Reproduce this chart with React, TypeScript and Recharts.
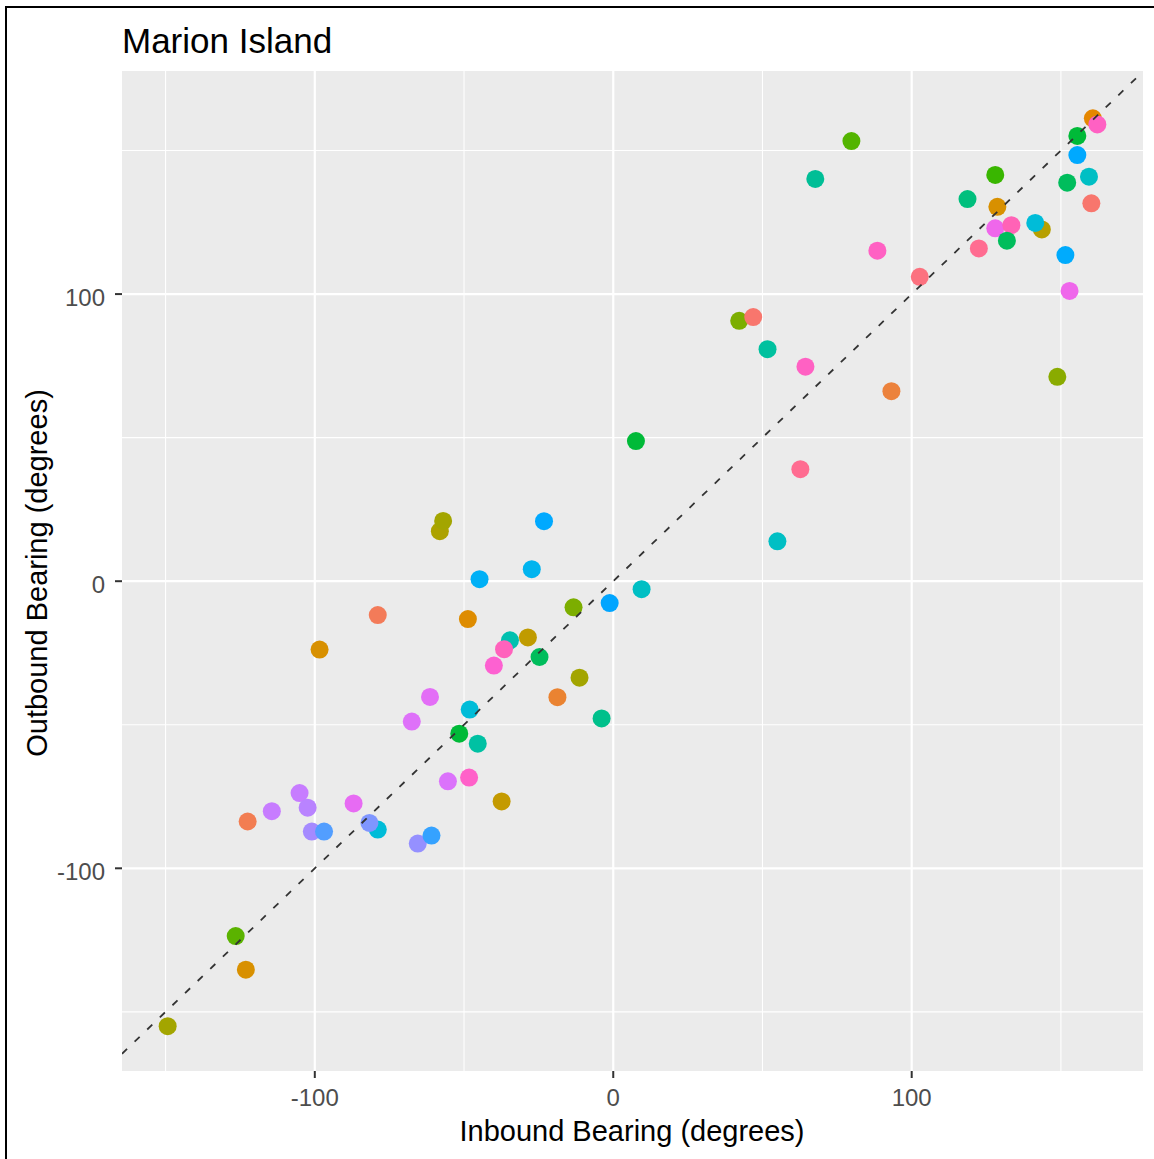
import * as React from 'react';
import { ScatterChart, Scatter, XAxis, YAxis, CartesianGrid, Cell } from 'recharts';

// Bearings per track (degrees)
const inbound = [
  79.8, 67.7, 128.0, 118.7, 128.7, 128.0, 133.4, 131.9, 143.6, 141.4,
  122.5, 88.5, 102.7, 160.7, 162.2, 155.5, 155.5, 159.4, 152.1, 160.2,
  151.5, 152.9, 42.2, 46.9, 51.7, 64.4, 93.2, 148.8, 7.6, 62.7,
  -58.1, -57.0, -23.2, 55.0, -44.8, -27.3, 9.5, -13.3, -1.2, -48.7,
  -34.6, -28.6, -36.6, -24.7, -40.0, -11.3, -18.7, -61.4, -48.1, -3.9,
  -78.9, -98.4, -67.5, -51.6, -45.4, -55.4, -48.3, -37.4, -105.1, -114.4,
  -122.5, -102.4, -101.0, -96.9, -87.0, -78.9, -81.7, -65.5, -60.9, -126.5,
  -123.1, -149.3,
];

const outbound = [
  153.3, 140.1, 141.5, 133.1, 130.4, 122.9, 124.0, 118.6, 122.5, 124.8,
  115.9, 115.1, 106.0, 161.2, 159.1, 155.1, 148.4, 140.9, 138.8, 131.6,
  113.6, 101.1, 90.7, 92.0, 80.8, 74.7, 66.2, 71.2, 48.8, 39.0,
  17.4, 21.0, 20.9, 13.9, 0.7, 4.2, -2.8, -9.1, -7.6, -13.2,
  -20.6, -19.6, -23.7, -26.4, -29.4, -33.6, -40.4, -40.3, -44.7, -47.8,
  -11.8, -23.8, -48.9, -53.1, -56.6, -69.7, -68.4, -76.7, -73.8, -80.1,
  -83.7, -78.9, -87.2, -87.2, -77.4, -86.5, -84.2, -91.4, -88.6, -123.6,
  -135.3, -155.0,
];

const pointColours = [
  '#53B400', '#00BE96', '#39B600', '#00BF7D', '#D89000', '#EF67EB', '#FF63B6', '#00BD5C', '#B79F00', '#00BCD8',
  '#FF6C91', '#FF61C3', '#FC717F', '#E58700', '#FF61C3', '#00BA38', '#00A9FF', '#00BFC4', '#00BD5C', '#F8766D',
  '#00ABFD', '#EF67EB', '#7CAE00', '#F8766D', '#00C19F', '#FF61C3', '#EC823C', '#8AAB00', '#00BA38', '#FF6C91',
  '#ADA200', '#A3A500', '#00A9FF', '#00BFC4', '#00B0F6', '#00B4EF', '#00BFC4', '#7CAE00', '#00A5FF', '#DE8C00',
  '#00C0AF', '#C09B00', '#FF62BC', '#00BD5C', '#FD61D1', '#A3A500', '#EA8331', '#E36EF6', '#00BCD8', '#00C08B',
  '#F37B59', '#D89000', '#DE71F9', '#00BA38', '#00C1A3', '#DB72FB', '#FF61C9', '#C49A00', '#C77CFF', '#C77CFF',
  '#F27D52', '#B983FF', '#A58AFF', '#529EFF', '#E76BF3', '#00BCD8', '#7F96FF', '#9590FF', '#35A2FF', '#5BB300',
  '#D89000', '#A3A500',
];

const majorTicks = [-100, 0, 100];
const minorTicks = [-150, -50, 50, 150];

const xDomain = [-164.6, 177.5];
const yDomain = [-170.6, 177.7];

// 1:1 reference line across the panel
const diagonal = [
  { x: -164.6, y: -164.6 },
  { x: 177.5, y: 177.5 },
];

const FONT = '"Liberation Sans", Arial, sans-serif';

const points = inbound.map((x, i) => ({ x, y: outbound[i], colour: pointColours[i] }));

const XTick = (props: any) => {
  const { x, y, payload } = props;
  return (
    <text x={x} y={y} dy={26} textAnchor="middle" fill="#4D4D4D" fontSize={24} fontFamily={FONT}>
      {payload.value}
    </text>
  );
};

const YTick = (props: any) => {
  const { x, y, payload } = props;
  return (
    <text x={x} y={y} dy={11.5} textAnchor="end" fill="#4D4D4D" fontSize={24} fontFamily={FONT}>
      {payload.value}
    </text>
  );
};

const Dot = (props: any) => {
  const { cx, cy, fill, payload } = props;
  return <circle cx={cx} cy={cy} r={9} fill={fill || payload.colour} />;
};

const NoDot = () => <g />;

const App: React.FC = () => {
  return (
    <div
      style={{
        position: 'absolute',
        left: 0,
        top: 0,
        width: 1154,
        height: 1159,
        background: '#fff',
        overflow: 'hidden',
      }}
    >
      <div
        style={{
          position: 'absolute',
          left: 5,
          top: 6,
          width: 1160,
          height: 1170,
          borderLeft: '2px solid #000',
          borderTop: '2px solid #000',
        }}
      />
      <div style={{ position: 'absolute', left: 0, top: 0 }}>
        <ScatterChart width={1154} height={1159} margin={{ top: 71, right: 11, bottom: 0, left: 0 }}>
          <CartesianGrid
            fill="#EBEBEB"
            stroke="#FFFFFF"
            strokeWidth={1.1}
            horizontalValues={minorTicks}
            verticalValues={minorTicks}
          />
          <CartesianGrid
            stroke="#FFFFFF"
            strokeWidth={2.2}
            horizontalValues={majorTicks}
            verticalValues={majorTicks}
          />
          <XAxis
            type="number"
            dataKey="x"
            domain={xDomain}
            ticks={majorTicks}
            allowDataOverflow
            height={88}
            tickSize={7}
            axisLine={false}
            tickLine={{ stroke: '#333333', strokeWidth: 2 }}
            tick={<XTick />}
          />
          <YAxis
            type="number"
            dataKey="y"
            domain={yDomain}
            ticks={majorTicks}
            allowDataOverflow
            width={122}
            tickSize={7}
            tickMargin={10}
            axisLine={false}
            tickLine={{ stroke: '#333333', strokeWidth: 2 }}
            tick={<YTick />}
          />
          <Scatter data={points} shape={<Dot />} isAnimationActive={false}>
            {points.map((p, i) => (
              <Cell key={i} fill={p.colour} />
            ))}
          </Scatter>
          <Scatter
            data={diagonal}
            shape={<NoDot />}
            line={{ stroke: '#333333', strokeWidth: 1.8, strokeDasharray: '7 10.5' }}
            isAnimationActive={false}
          />
        </ScatterChart>
      </div>
      <svg
        width={1154}
        height={1159}
        style={{ position: 'absolute', left: 0, top: 0, pointerEvents: 'none' }}
      >
        <text x={122} y={53} fontSize={35} fontFamily={FONT} fill="#000">
          Marion Island
        </text>
        <text x={632} y={1141} fontSize={29} fontFamily={FONT} fill="#000" textAnchor="middle">
          Inbound Bearing (degrees)
        </text>
        <text
          x={47}
          y={573}
          fontSize={29}
          fontFamily={FONT}
          fill="#000"
          textAnchor="middle"
          transform="rotate(-90, 47, 573)"
        >
          Outbound Bearing (degrees)
        </text>
      </svg>
    </div>
  );
};

export default App;
